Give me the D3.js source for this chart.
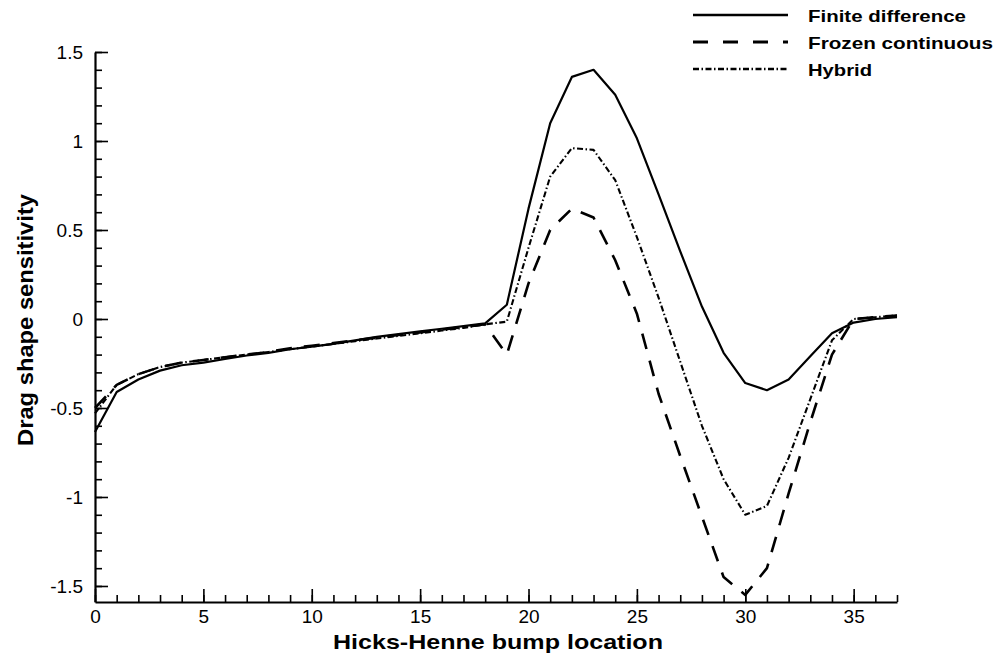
<!DOCTYPE html>
<html>
<head>
<meta charset="utf-8">
<script src="https://cdn.jsdelivr.net/npm/d3@7"></script>
<style>
  html, body { margin: 0; padding: 0; background: #fff; }
  svg text { font-family: "Liberation Sans", Arial, Helvetica, sans-serif; fill: #000; }
</style>
</head>
<body>
<div id="chart"></div>
<script>
// --- Data ---
const bumpLocations = d3.range(0, 38);
const finiteDifference = [
  -0.635, -0.41, -0.34, -0.29, -0.26, -0.245, -0.225, -0.205, -0.19, -0.17,
  -0.155, -0.14, -0.12, -0.10, -0.085, -0.07, -0.055, -0.04, -0.025, 0.08,
  0.62, 1.10, 1.36, 1.40, 1.26, 1.015, 0.70, 0.38, 0.07, -0.19,
  -0.36, -0.40, -0.34, -0.21, -0.08, -0.02, 0.0, 0.01
];
const frozenContinuous = [
  -0.50, -0.37, -0.31, -0.27, -0.245, -0.23, -0.215, -0.20, -0.185, -0.165,
  -0.15, -0.135, -0.12, -0.105, -0.09, -0.075, -0.06, -0.045, -0.03, -0.20,
  0.20, 0.50, 0.62, 0.57, 0.33, 0.03, -0.42, -0.77, -1.11, -1.45,
  -1.55, -1.40, -0.98, -0.58, -0.20, 0.0, 0.01, 0.02
];
const hybrid = [
  -0.53, -0.37, -0.31, -0.27, -0.245, -0.23, -0.215, -0.20, -0.185, -0.17,
  -0.155, -0.14, -0.125, -0.11, -0.095, -0.08, -0.065, -0.05, -0.03, -0.015,
  0.40, 0.80, 0.96, 0.95, 0.78, 0.46, 0.12, -0.24, -0.60, -0.90,
  -1.10, -1.05, -0.78, -0.45, -0.12, 0.0, 0.01, 0.02
];
const seriesNames = ["Finite difference", "Frozen continuous", "Hybrid"];
const xMajorTicks = [0, 5, 10, 15, 20, 25, 30, 35];
const yMajorTicks = [-1.5, -1, -0.5, 0, 0.5, 1, 1.5];

// --- Layout ---
const WIDTH = 1000;
const HEIGHT = 660;
const X_LEFT = 95, X_RIGHT = 897;
const Y_TOP = 52, Y_BOTTOM = 602;

const styles = [
  { dash: null, width: 2.2 },
  { dash: "16,12", width: 2.6 },
  { dash: "6,2.5,1.5,2.5", width: 2.1 }
];
// the reference font runs wider than Liberation Sans, so stretch to measured lengths
const legendTextLengths = [158, 185, 64];

const svg = d3.select("#chart").append("svg")
  .attr("width", WIDTH).attr("height", HEIGHT);

const x = d3.scaleLinear().domain([0, 37]).range([X_LEFT, X_RIGHT]);
const y = d3.scaleLinear().domain([-1.59, 1.5]).range([Y_BOTTOM, Y_TOP]);

// minor ticks
svg.append("g")
  .attr("transform", `translate(0,${Y_BOTTOM})`)
  .call(d3.axisBottom(x).tickValues(d3.range(0, 38)).tickSize(-7).tickFormat(""))
  .call(g => g.select(".domain").remove());
svg.append("g")
  .attr("transform", `translate(${X_LEFT},0)`)
  .call(d3.axisLeft(y).tickValues(d3.range(-15, 16).map(d => d / 10)).tickSize(-7).tickFormat(""))
  .call(g => g.select(".domain").remove());

// major ticks
const xAxis = svg.append("g")
  .attr("transform", `translate(0,${Y_BOTTOM})`)
  .call(d3.axisBottom(x).tickValues(xMajorTicks).tickSize(-13).tickSizeOuter(0).tickPadding(10).tickFormat(d3.format("d")));
const yAxis = svg.append("g")
  .attr("transform", `translate(${X_LEFT},0)`)
  .call(d3.axisLeft(y).tickValues(yMajorTicks).tickSize(-13).tickSizeOuter(0).tickPadding(12).tickFormat(d => String(d)));

svg.selectAll(".tick line").attr("stroke", "#000").attr("stroke-width", 1.6);
svg.selectAll(".domain").attr("stroke", "#000").attr("stroke-width", 2.2);
svg.selectAll(".tick text").attr("font-size", 19).attr("font-family", "Liberation Sans, Arial, sans-serif");
xAxis.selectAll(".tick text").attr("dy", "0.71em").attr("y", 7.5);

// axis titles
svg.append("text")
  .attr("x", 498).attr("y", 649)
  .attr("text-anchor", "middle")
  .attr("font-size", 21).attr("font-weight", "bold")
  .attr("textLength", 330).attr("lengthAdjust", "spacingAndGlyphs")
  .text("Hicks-Henne bump location");
svg.append("text")
  .attr("transform", "translate(33,320) rotate(-90)")
  .attr("text-anchor", "middle")
  .attr("font-size", 22).attr("font-weight", "bold")
  .attr("textLength", 252).attr("lengthAdjust", "spacingAndGlyphs")
  .text("Drag shape sensitivity");

// lines
const line = d3.line().x((d, i) => x(bumpLocations[i])).y(d => y(d));
[finiteDifference, frozenContinuous, hybrid].forEach((values, i) => {
  svg.append("path")
    .datum(values)
    .attr("fill", "none")
    .attr("stroke", "#000")
    .attr("stroke-width", styles[i].width)
    .attr("stroke-linejoin", "round")
    .attr("stroke-dasharray", styles[i].dash)
    .attr("d", line);
});

// legend
const legend = svg.append("g").attr("transform", "translate(693,15)");
seriesNames.forEach((name, i) => {
  const row = legend.append("g").attr("transform", `translate(0,${i * 27})`);
  row.append("line")
    .attr("x1", 0).attr("x2", 95).attr("y1", 0).attr("y2", 0)
    .attr("stroke", "#000")
    .attr("stroke-width", styles[i].width + 0.3)
    .attr("stroke-dasharray", i === 1 ? "15,15" : styles[i].dash);
  row.append("text")
    .attr("x", 115).attr("y", 7)
    .attr("font-size", 17).attr("font-weight", "bold")
    .attr("textLength", legendTextLengths[i]).attr("lengthAdjust", "spacingAndGlyphs")
    .text(name);
});
</script>
</body>
</html>
